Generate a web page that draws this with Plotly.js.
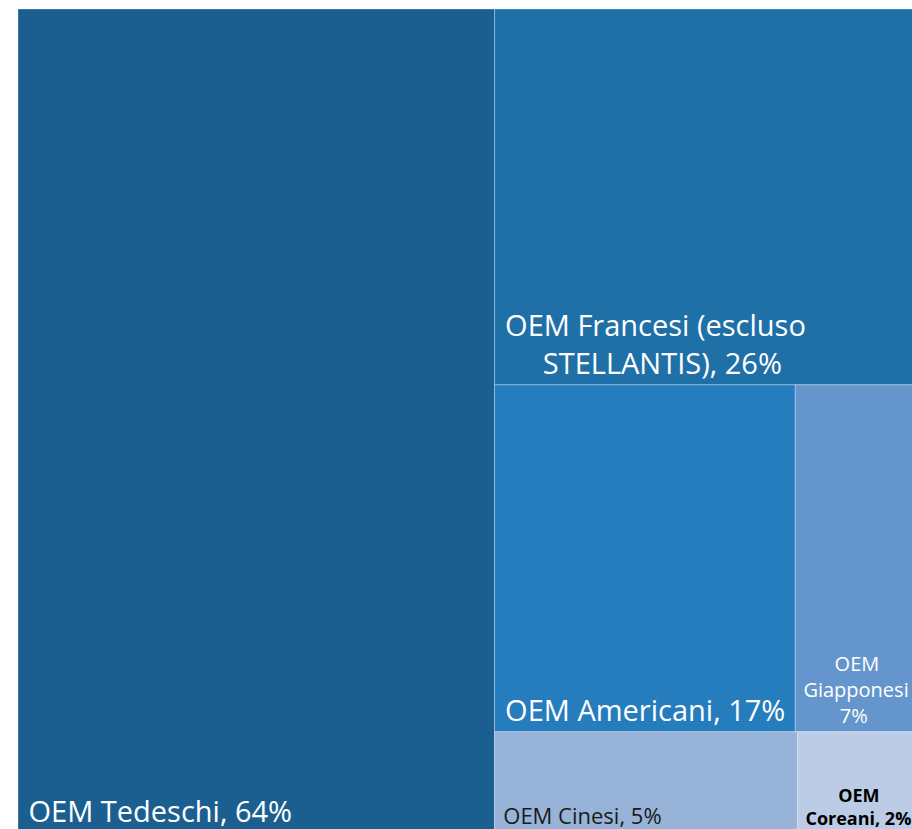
<!DOCTYPE html>
<html>
<head>
<meta charset="utf-8">
<script src="https://cdn.plot.ly/plotly-3.0.1.min.js"></script>
<style>
  html, body { margin: 0; padding: 0; overflow: hidden; background: #ffffff; }
  #chart { width: 919px; height: 833px; }
</style>
</head>
<body>
<div id="chart"></div>
<script>
// Data
const labels = ["OEM Tedeschi", "OEM Francesi (escluso STELLANTIS)", "OEM Americani", "OEM Giapponesi", "OEM Cinesi", "OEM Coreani"];
const parents = ["", "", "", "", "", ""];
const values = [64, 26, 17, 7, 5, 2];
const displayText = [
  "\u00a0OEM Tedeschi, 64%",
  "\u00a0OEM Francesi (escluso<br>\u00a0\u00a0\u00a0\u00a0\u00a0\u00a0STELLANTIS), 26%",
  "\u00a0OEM Americani, 17%",
  "\u00a0\u00a0\u00a0\u00a0\u00a0\u00a0\u00a0OEM<br>\u00a0Giapponesi<br>\u00a0\u00a0\u00a0\u00a0\u00a0\u00a0\u00a0\u00a07%",
  "\u00a0OEM Cinesi, 5%",
  "<b>\u00a0\u00a0\u00a0\u00a0\u00a0\u00a0\u00a0\u00a0OEM<br>\u00a0Coreani, 2%</b>"
];
const colors = ["#1b5f91", "#2070a8", "#267dbd", "#6496cd", "#97b3d8", "#bccce6"];
const textColors = ["#ffffff", "#ffffff", "#ffffff", "#ffffff", "#1a1a1a", "#000000"];
const textSizes = [29, 29, 29, 20, 22, 18];

const trace = {
  type: "treemap",
  labels: labels,
  parents: parents,
  values: values,
  text: displayText,
  textinfo: "text",
  textposition: "bottom left",
  sort: true,
  branchvalues: "remainder",
  tiling: { packing: "squarify", squarifyratio: 1.275, pad: 0 },
  marker: {
    colors: colors,
    line: { width: 1, color: "rgba(255,255,255,0.28)" },
    pad: { t: 0, l: 0, r: 0, b: 0 }
  },
  textfont: { family: "Open Sans, sans-serif", size: textSizes, color: textColors },
  pathbar: { visible: false },
  hovertemplate: "%{label}: %{value}%<extra></extra>"
};

const layout = {
  width: 919,
  height: 833,
  margin: { l: 18, r: 0, t: 9, b: 0 },
  paper_bgcolor: "#ffffff",
  showlegend: false
};

Plotly.newPlot("chart", [trace], layout, { displayModeBar: false, staticPlot: true });
</script>
</body>
</html>
